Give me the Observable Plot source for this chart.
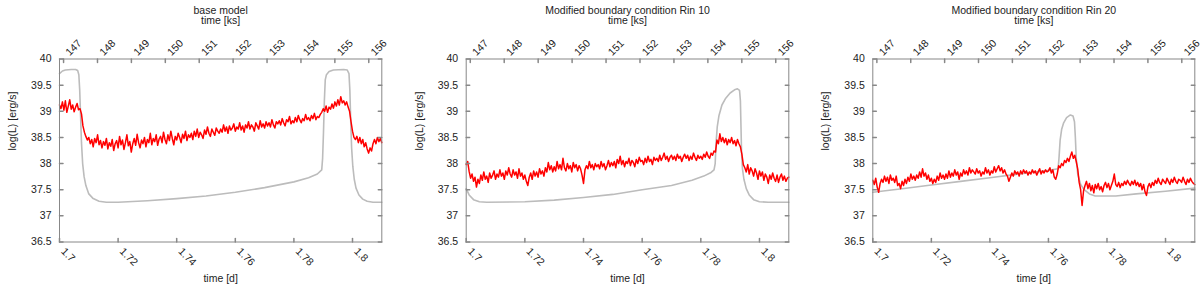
<!DOCTYPE html>
<html><head><meta charset="utf-8">
<script src="https://cdn.jsdelivr.net/npm/d3@7"></script>
<script src="https://cdn.jsdelivr.net/npm/@observablehq/plot@0.6"></script>
<style>
body{margin:0;background:#fff;}
#row{display:flex;width:1200px;height:290px;}
#row svg{display:block;}
</style></head><body><div id="row"></div>
<script>
// ---------- text / ticks ----------
const panelTitles = ["base model", "Modified boundary condition Rin 10", "Modified boundary condition Rin 20"];
const topAxisLabel = "time [ks]";
const bottomAxisLabel = "time [d]";
const yAxisLabel = "log(L) [erg/s]";
const dTicks = [1.7, 1.72, 1.74, 1.76, 1.78, 1.8];
const ksTicks = [147, 148, 149, 150, 151, 152, 153, 154, 155, 156];
const yTicks = [36.5, 37, 37.5, 38, 38.5, 39, 39.5, 40];
const secondsPerDayK = 86.4;
const xDomain = [1.7, 1.81];
const yDomain = [36.5, 40];

// ---------- model (grey) curves ----------
const greyD1 = [1.7000,1.7010,1.7020,1.7040,1.7055,1.7062,1.7066,1.7069,1.7072,1.7075,1.7079,1.7084,1.7090,1.7100,1.7115,1.7135,1.7160,1.7200,1.7300,1.7400,1.7500,1.7600,1.7700,1.7800,1.7850,1.7880,1.7895,1.7898,1.7901,1.7904,1.7907,1.7911,1.7920,1.7935,1.7970,1.7982,1.7988,1.7991,1.7994,1.7997,1.8001,1.8006,1.8012,1.8022,1.8035,1.8050,1.8070,1.8100];
const greyL1 = [39.72,39.77,39.79,39.80,39.80,39.78,39.70,39.40,38.90,38.40,38.00,37.75,37.58,37.42,37.33,37.28,37.26,37.26,37.29,37.33,37.38,37.45,37.54,37.65,37.73,37.80,37.88,38.10,38.60,39.20,39.60,39.70,39.76,39.79,39.80,39.79,39.72,39.40,38.80,38.30,37.95,37.70,37.53,37.40,37.32,37.28,37.26,37.26];

const greyD2 = [1.7000,1.7010,1.7025,1.7045,1.7070,1.7200,1.7300,1.7400,1.7500,1.7600,1.7700,1.7770,1.7810,1.7835,1.7845,1.7849,1.7852,1.7856,1.7862,1.7872,1.7885,1.7900,1.7915,1.7925,1.7932,1.7935,1.7937,1.7939,1.7942,1.7947,1.7955,1.7965,1.7980,1.8000,1.8030,1.8100];
const greyL2 = [37.52,37.40,37.31,37.27,37.26,37.27,37.30,37.35,37.41,37.50,37.58,37.68,37.76,37.83,37.88,38.00,38.40,38.70,38.92,39.12,39.25,39.35,39.41,39.43,39.40,39.20,38.70,38.20,37.90,37.70,37.52,37.40,37.31,37.27,37.26,37.26];

const greyD3 = [1.7000,1.7100,1.7200,1.7300,1.7400,1.7500,1.7600,1.7633,1.7636,1.7640,1.7645,1.7652,1.7662,1.7675,1.7684,1.7689,1.7692,1.7695,1.7700,1.7710,1.7722,1.7740,1.7760,1.7830,1.7900,1.8000,1.8100];
const greyL3 = [37.45,37.52,37.59,37.66,37.73,37.80,37.87,37.90,38.10,38.45,38.65,38.78,38.88,38.93,38.91,38.80,38.50,38.10,37.80,37.60,37.50,37.42,37.38,37.38,37.42,37.47,37.53];

// ---------- simulated (red) light curves, sampled every 0.0005 d from 1.700 d ----------
const redStartD = 1.7;
const redStepD = 0.0005;
const redL1 = [
39.12,39.05,39.18,39.02,39.20,38.98,39.10,39.22,39.04,39.12,
38.99,39.08,39.15,39.03,39.05,38.95,38.72,38.60,38.52,38.45,
38.50,38.38,38.46,38.32,38.48,38.40,38.55,38.36,38.44,38.30,
38.42,38.35,38.48,38.28,38.40,38.33,38.46,38.25,38.38,38.44,
38.30,38.52,38.36,38.45,38.27,38.40,38.55,38.34,38.42,38.22,
38.38,38.48,38.35,38.56,38.40,38.30,38.45,38.38,38.50,38.32,
38.46,38.40,38.58,38.36,38.48,38.42,38.55,38.35,38.47,38.52,
38.40,38.60,38.46,38.38,38.55,38.44,38.62,38.48,38.36,38.52,
38.45,38.58,38.50,38.40,38.56,38.48,38.62,38.44,38.55,38.50,
38.58,38.46,38.62,38.52,38.66,38.50,38.60,38.55,38.48,38.64,
38.56,38.70,38.58,38.52,38.66,38.60,38.54,38.68,38.62,38.58,
38.66,38.60,38.74,38.62,38.70,38.58,38.72,38.64,38.68,38.76,
38.62,38.70,38.66,38.78,38.64,38.72,38.60,38.74,38.68,38.80,
38.66,38.74,38.70,38.62,38.78,38.72,38.66,38.82,38.70,38.76,
38.68,38.80,38.72,38.78,38.70,38.84,38.74,38.68,38.80,38.76,
38.82,38.74,38.86,38.78,38.72,38.84,38.80,38.90,38.76,38.82,
38.78,38.88,38.80,38.92,38.84,38.78,38.86,38.82,38.94,38.84,
38.88,38.82,38.92,38.86,38.96,38.84,38.90,38.88,38.94,38.98,
39.05,39.00,39.10,38.98,39.08,39.04,39.14,39.06,39.18,39.10,
39.22,39.12,39.28,39.16,39.20,39.12,39.18,39.08,39.00,38.80,
38.62,38.50,38.46,38.52,38.40,38.50,38.38,38.46,38.32,38.40,
38.28,38.20,38.30,38.24,38.38,38.46,38.38,38.50,38.42,38.48,
38.40];
const redL2 = [
37.98,38.04,37.85,37.72,37.80,37.66,37.74,37.55,37.70,37.62,
37.78,37.68,37.84,37.70,37.76,37.64,37.82,37.72,37.78,37.86,
37.70,37.80,37.74,37.88,37.76,37.82,37.70,37.86,37.78,37.92,
37.80,37.74,37.88,37.78,37.84,37.72,37.90,37.76,37.82,37.70,
37.78,37.66,37.58,37.74,37.82,37.70,37.86,37.76,37.84,37.74,
37.90,37.80,37.86,37.76,37.92,37.84,38.02,37.88,37.96,37.84,
37.94,37.86,38.04,37.90,37.98,37.88,38.10,37.92,37.86,38.00,
37.90,37.96,37.84,38.02,37.92,37.98,37.86,37.96,37.90,37.78,
37.62,37.88,37.96,37.90,38.04,37.92,37.98,37.88,38.00,37.94,
37.98,37.90,38.04,37.94,38.00,37.88,37.96,38.06,37.94,38.02,
37.96,38.04,37.92,38.08,38.00,38.14,37.98,38.06,37.94,38.04,
38.00,38.10,37.96,38.06,38.02,37.94,38.08,38.00,38.12,38.04,
38.06,37.98,38.10,38.02,38.14,38.04,38.08,37.98,38.12,38.06,
38.10,38.04,38.16,38.06,38.12,38.20,38.08,38.14,38.04,38.12,
38.16,38.08,38.14,38.06,38.18,38.10,38.14,38.04,38.12,38.18,
38.10,38.16,38.06,38.14,38.08,38.20,38.12,38.06,38.16,38.10,
38.14,38.08,38.18,38.12,38.22,38.14,38.10,38.20,38.16,38.24,
38.22,38.45,38.38,38.57,38.42,38.50,38.40,38.48,38.36,38.46,
38.40,38.50,38.38,38.44,38.34,38.46,38.38,38.32,38.18,37.98,
37.92,37.84,37.98,37.80,37.92,37.86,37.76,37.90,37.82,37.70,
37.86,37.76,37.84,37.68,37.80,37.74,37.62,37.78,37.70,37.82,
37.72,37.66,37.78,37.64,37.74,37.80,37.68,37.76,37.66,37.72,
37.74];
const redL3 = [
37.68,37.60,37.72,37.55,37.45,37.62,37.70,37.64,37.76,37.66,
37.74,37.62,37.78,37.68,37.72,37.64,37.76,37.58,37.62,37.52,
37.66,37.58,37.70,37.62,37.74,37.66,37.80,37.70,37.76,37.68,
37.78,37.72,37.84,37.74,37.90,37.76,37.82,37.70,37.78,37.66,
37.72,37.62,37.70,37.64,37.76,37.68,37.82,37.72,37.78,37.70,
37.80,37.72,37.86,37.74,37.82,37.76,37.88,37.78,37.84,37.70,
37.82,37.76,37.88,37.80,37.86,37.78,37.92,37.82,37.88,37.84,
37.80,37.90,37.82,37.86,37.76,37.84,37.80,37.92,37.82,37.88,
37.78,37.86,37.82,37.94,37.84,37.90,37.96,37.86,37.92,37.82,
37.88,37.80,37.76,37.66,37.74,37.82,37.76,37.86,37.80,37.84,
37.76,37.86,37.80,37.88,37.82,37.86,37.78,37.84,37.80,37.88,
37.82,37.86,37.78,37.84,37.90,37.80,37.86,37.82,37.88,37.84,
37.86,37.92,37.82,37.88,37.74,37.70,37.80,37.96,37.92,38.00,
37.96,38.06,38.02,38.10,38.04,38.14,38.22,38.10,38.16,38.04,
37.90,37.64,37.50,37.20,37.48,37.58,37.66,37.52,37.62,37.48,
37.58,37.44,37.60,37.52,37.62,37.50,37.56,37.46,37.58,37.64,
37.54,37.62,37.50,37.58,37.66,37.80,37.60,37.56,37.64,37.54,
37.62,37.58,37.66,37.60,37.68,37.62,37.58,37.66,37.60,37.68,
37.58,37.64,37.56,37.62,37.50,37.60,37.46,37.39,37.56,37.62,
37.54,37.64,37.58,37.68,37.62,37.72,37.64,37.60,37.70,37.66,
37.62,37.72,37.66,37.60,37.70,37.64,37.74,37.66,37.62,37.70,
37.68,37.64,37.74,37.66,37.60,37.70,37.64,37.72,37.66,37.62,
37.60];

const panels = [
  {title: panelTitles[0], greyD: greyD1, greyL: greyL1, red: redL1, ml: 59, mr: 18.7},
  {title: panelTitles[1], greyD: greyD2, greyL: greyL2, red: redL2, ml: 65.7, mr: 11.7},
  {title: panelTitles[2], greyD: greyD3, greyL: greyL3, red: redL3, ml: 72.3, mr: 5.7}
];

const FONT = "Liberation Sans, Arial, Helvetica, sans-serif";
const TXT = "#222";
const FRAME = "#888";
const tickShape = {draw(ctx, l) { ctx.moveTo(0, 0); ctx.lineTo(0, -l); }};
const TL = 3.5;

function panel(p) {
  const grey = p.greyD.map((d, i) => ({d, L: p.greyL[i]}));
  const red = p.red.map((L, i) => ({d: +(redStartD + i * redStepD).toFixed(4), L}));
  const ksD = ksTicks.map(k => ({k, d: k / secondsPerDayK}));
  return Plot.plot({
    width: 400, height: 290,
    marginLeft: p.ml, marginRight: p.mr, marginTop: 58.5, marginBottom: 48.5,
    style: {fontFamily: FONT, fontSize: "10.5px", color: TXT, background: "#fff", overflow: "visible"},
    x: {domain: xDomain, axis: null},
    y: {domain: yDomain, axis: null},
    marks: [
      Plot.line(grey, {x: "d", y: "L", stroke: "#bcbcbc", strokeWidth: 1.6}),
      Plot.line(red, {x: "d", y: "L", stroke: "#ff0000", strokeWidth: 1.5}),
      Plot.frame({stroke: FRAME, strokeWidth: 1}),
      // inward ticks
      Plot.vector(dTicks, {x: d => d, frameAnchor: "bottom", length: TL, rotate: 0, anchor: "start", shape: tickShape, stroke: FRAME}),
      Plot.vector(ksD, {x: "d", frameAnchor: "top", length: TL, rotate: 180, anchor: "start", shape: tickShape, stroke: FRAME}),
      Plot.vector(yTicks, {y: d => d, frameAnchor: "left", length: TL, rotate: 90, anchor: "start", shape: tickShape, stroke: FRAME}),
      Plot.vector(yTicks, {y: d => d, frameAnchor: "right", length: TL, rotate: -90, anchor: "start", shape: tickShape, stroke: FRAME}),
      // tick labels
      Plot.text(yTicks, {y: d => d, frameAnchor: "left", dx: -8, textAnchor: "end", text: d => String(d), fill: TXT}),
      Plot.text(dTicks, {x: d => d, frameAnchor: "bottom", dx: 1, dy: 10, rotate: 45, textAnchor: "start", text: d => String(d), fill: TXT}),
      Plot.text(ksD, {x: "d", frameAnchor: "top", dx: 1, dy: -8, rotate: -45, textAnchor: "start", text: d => String(d.k), fill: TXT}),
      // titles & axis labels
      Plot.text([p.title], {frameAnchor: "top", dy: -52.5, text: d => d, fill: TXT}),
      Plot.text([topAxisLabel], {frameAnchor: "top", dy: -42.5, text: d => d, fill: TXT}),
      Plot.text([bottomAxisLabel], {frameAnchor: "bottom", dy: 39.5, text: d => d, fill: TXT}),
      Plot.text([yAxisLabel], {frameAnchor: "left", dx: -47, rotate: -90, text: d => d, fill: TXT})
    ]
  });
}

const row = document.getElementById("row");
panels.forEach(p => row.appendChild(panel(p)));
</script>
</body></html>
